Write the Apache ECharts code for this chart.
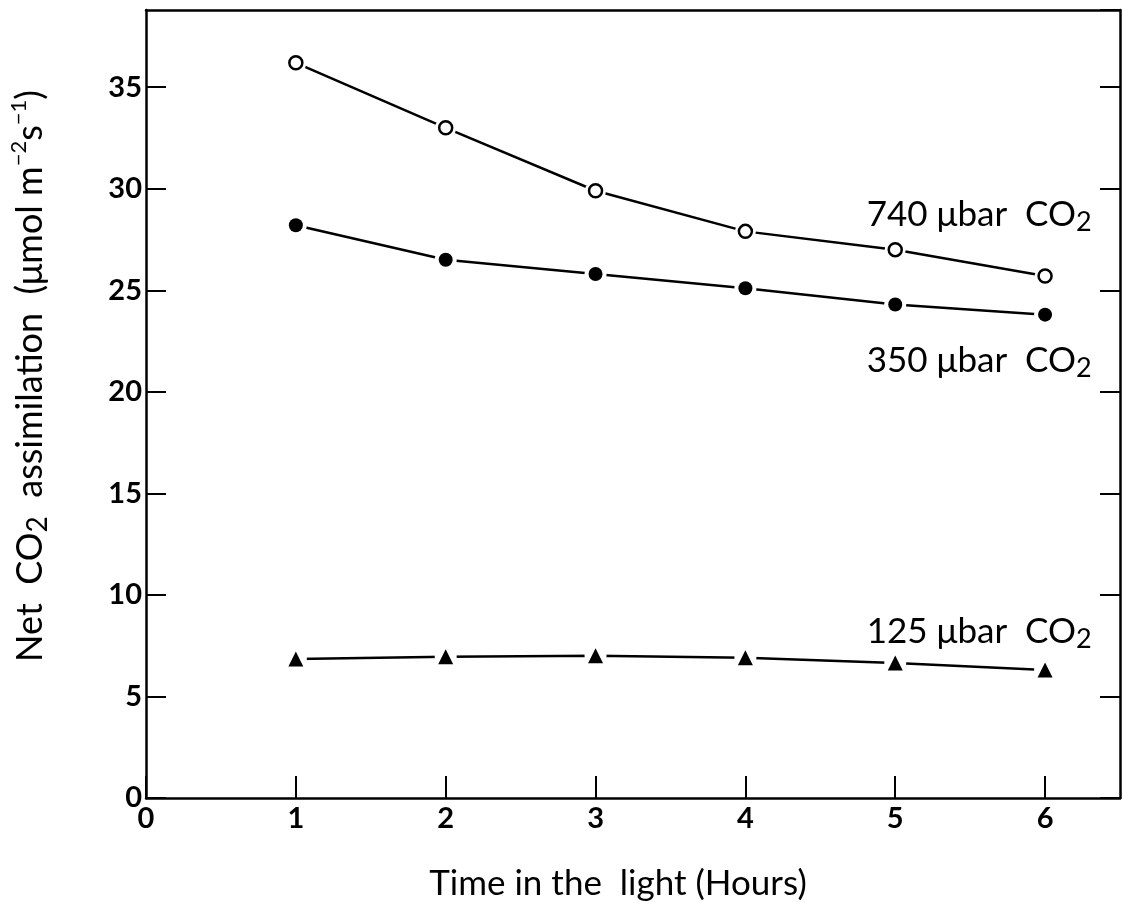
<!DOCTYPE html>
<html>
<head>
<meta charset="utf-8">
<script src="https://cdn.jsdelivr.net/npm/echarts@6/dist/echarts.min.js"></script>
<style>
html,body{margin:0;padding:0;background:#fff;}
#chart{width:1123px;height:912px;}
</style>
</head>
<body>
<div id="chart"></div>
<script>
// ---- data ----
var hours   = [1, 2, 3, 4, 5, 6];
var co2_740 = [36.2, 33.0, 29.9, 27.9, 27.0, 25.7];
var co2_350 = [28.2, 26.5, 25.8, 25.1, 24.3, 23.8];
var co2_125 = [6.85, 6.95, 7.0, 6.9, 6.65, 6.3];
var xTicks  = [0, 1, 2, 3, 4, 5, 6];
var yTicks  = [0, 5, 10, 15, 20, 25, 30, 35];
var seriesNames = ['740', '350', '125'];

function pairs(xs, ys) { return xs.map(function (x, i) { return [x, ys[i]]; }); }

var FONT = 'Lato, "DejaVu Sans", sans-serif';
var black = '#000';

var chart = echarts.init(document.getElementById('chart'), null, {renderer: 'canvas'});

var labelRich = {
  b: {fontSize: 35, fontFamily: FONT, color: black, lineHeight: 42},
  s: {fontSize: 27, fontFamily: FONT, color: black, lineHeight: 18, verticalAlign: 'bottom'}
};
function seriesLabel(name) { return '{b|' + name + ' μbar  CO}{s|2}'; }

function lineSeries(data) {
  return {type: 'line', data: data, showSymbol: false, symbol: 'none', silent: true,
    lineStyle: {color: black, width: 2.5, opacity: 1}, z: 2, animation: false};
}
function haloSeries(data, size) {
  return {type: 'scatter', data: data, symbol: 'circle', symbolSize: size, silent: true,
    itemStyle: {color: '#fff', opacity: 1}, z: 3, animation: false};
}
function markerSeries(data, symbol, size, fill, border, labelCoord, name) {
  return {type: 'scatter', data: data, symbol: symbol, symbolSize: size, silent: true,
    itemStyle: {color: fill, borderColor: black, borderWidth: border, opacity: 1}, z: 4, animation: false,
    markPoint: {
      symbol: 'circle', symbolSize: 0, silent: true, animation: false,
      label: {show: true, position: 'inside', formatter: seriesLabel(name), rich: labelRich},
      data: [{coord: labelCoord}]
    }
  };
}

var d740 = pairs(hours, co2_740), d350 = pairs(hours, co2_350), d125 = pairs(hours, co2_125);

var axisLine = {show: true, onZero: false, lineStyle: {color: black, width: 2.5}};

chart.setOption({
  backgroundColor: '#fff',
  animation: false,
  grid: {left: 143, right: 3, top: 10, bottom: 114, containLabel: false},
  xAxis: [{
    type: 'value', min: 0, max: 6.5, interval: 1, position: 'bottom',
    axisLine: axisLine,
    axisTick: {show: true, inside: true, length: 22, lineStyle: {color: black, width: 2}},
    splitLine: {show: false},
    axisLabel: {color: black, fontSize: 29, fontWeight: 'bold', fontFamily: FONT, margin: 6, showMaxLabel: false,
      formatter: function (v) { return xTicks.indexOf(v) >= 0 ? String(v) : ''; }},
    name: 'Time in the  light (Hours)', nameLocation: 'middle', nameGap: 68,
    nameTextStyle: {color: black, fontSize: 35, fontFamily: FONT, padding: [0, 30, 0, 0]}
  }, {
    type: 'value', min: 0, max: 6.5, position: 'top',
    axisLine: axisLine, axisTick: {show: false}, axisLabel: {show: false}, splitLine: {show: false}
  }],
  yAxis: [{
    type: 'value', min: 0, max: 38.8, interval: 5, position: 'left',
    axisLine: axisLine,
    axisTick: {show: true, inside: true, length: 20, lineStyle: {color: black, width: 2}},
    splitLine: {show: false},
    axisLabel: {color: black, fontSize: 29, fontWeight: 'bold', fontFamily: FONT, margin: 4, showMaxLabel: false,
      formatter: function (v) { return yTicks.indexOf(v) >= 0 ? String(v) : ''; }},
    name: '{n|Net  CO}{s|2}{n|  assimilation  (μmol m}{p|−2}{n|s}{p|−1}{n|)}',
    nameLocation: 'middle', nameRotate: 90, nameGap: 94,
    nameTextStyle: {
      color: black, fontFamily: FONT, padding: [0, 0, 0, 56],
      rich: {
        n: {fontSize: 36, fontFamily: FONT, color: black, lineHeight: 44},
        s: {fontSize: 28, fontFamily: FONT, color: black, lineHeight: 18, verticalAlign: 'bottom'},
        p: {fontSize: 22, fontFamily: FONT, color: black, lineHeight: 18, verticalAlign: 'top'}
      }
    }
  }, {
    type: 'value', min: 0, max: 38.8, interval: 5, position: 'right',
    axisLine: axisLine,
    axisTick: {show: true, inside: true, length: 20, lineStyle: {color: black, width: 2}},
    axisLabel: {show: false}, splitLine: {show: false}
  }],
  series: [
    lineSeries(d740), lineSeries(d350), lineSeries(d125),
    haloSeries(d740, 21), haloSeries(d350, 22), haloSeries(d125, 22),
    markerSeries(d740, 'circle', 13, '#fff', 2.5, [5.56, 28.7], seriesNames[0]),
    markerSeries(d350, 'circle', 14, black, 0, [5.56, 21.55], seriesNames[1]),
    markerSeries(d125, 'triangle', 15, black, 0, [5.56, 8.17], seriesNames[2])
  ]
});
</script>
</body>
</html>
